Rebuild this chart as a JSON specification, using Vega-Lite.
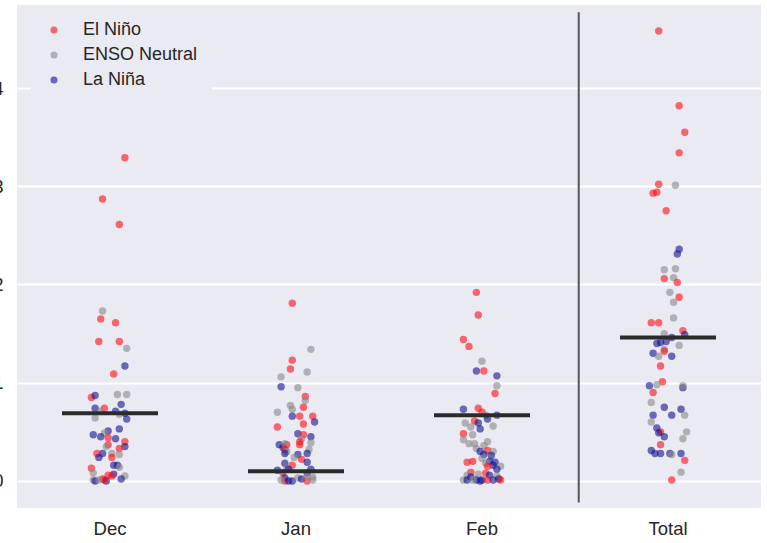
{
 "$schema": "https://vega.github.io/schema/vega-lite/v6.json",
 "width": 744, "height": 503,
 "autosize": {"type": "none"},
 "padding": {"left": 17, "top": 5, "right": 6, "bottom": 35},
 "background": "white",
 "config": {
  "view": {"fill": "#eaeaf2", "stroke": null},
  "font": "Liberation Sans",
  "axis": {"labelFont": "Liberation Sans", "labelFontSize": 18.5, "labelColor": "#262626", "domain": false, "ticks": false, "title": null}
 },
 "datasets": {
  "points": [
   {"month":"Dec","phase":"El Niño","value":3.29,"jitter":0.08},
   {"month":"Dec","phase":"El Niño","value":2.87,"jitter":-0.04},
   {"month":"Dec","phase":"El Niño","value":2.61,"jitter":0.05},
   {"month":"Dec","phase":"ENSO Neutral","value":1.73,"jitter":-0.04},
   {"month":"Dec","phase":"El Niño","value":1.65,"jitter":-0.05},
   {"month":"Dec","phase":"El Niño","value":1.61,"jitter":0.03},
   {"month":"Dec","phase":"El Niño","value":1.42,"jitter":-0.06},
   {"month":"Dec","phase":"El Niño","value":1.42,"jitter":0.05},
   {"month":"Dec","phase":"ENSO Neutral","value":1.35,"jitter":0.09},
   {"month":"Dec","phase":"La Niña","value":1.17,"jitter":0.08},
   {"month":"Dec","phase":"El Niño","value":1.09,"jitter":0.02},
   {"month":"Dec","phase":"El Niño","value":0.85,"jitter":-0.10},
   {"month":"Dec","phase":"La Niña","value":0.87,"jitter":-0.08},
   {"month":"Dec","phase":"ENSO Neutral","value":0.88,"jitter":0.04},
   {"month":"Dec","phase":"ENSO Neutral","value":0.88,"jitter":0.09},
   {"month":"Dec","phase":"La Niña","value":0.78,"jitter":0.06},
   {"month":"Dec","phase":"La Niña","value":0.74,"jitter":-0.08},
   {"month":"Dec","phase":"El Niño","value":0.74,"jitter":-0.03},
   {"month":"Dec","phase":"ENSO Neutral","value":0.71,"jitter":-0.05},
   {"month":"Dec","phase":"La Niña","value":0.71,"jitter":0.03},
   {"month":"Dec","phase":"La Niña","value":0.69,"jitter":0.08},
   {"month":"Dec","phase":"ENSO Neutral","value":0.64,"jitter":-0.08},
   {"month":"Dec","phase":"La Niña","value":0.63,"jitter":0.09},
   {"month":"Dec","phase":"ENSO Neutral","value":0.68,"jitter":0.05},
   {"month":"Dec","phase":"La Niña","value":0.53,"jitter":0.05},
   {"month":"Dec","phase":"La Niña","value":0.51,"jitter":-0.01},
   {"month":"Dec","phase":"ENSO Neutral","value":0.49,"jitter":-0.03},
   {"month":"Dec","phase":"La Niña","value":0.47,"jitter":-0.09},
   {"month":"Dec","phase":"La Niña","value":0.45,"jitter":-0.05},
   {"month":"Dec","phase":"El Niño","value":0.44,"jitter":-0.01},
   {"month":"Dec","phase":"La Niña","value":0.43,"jitter":0.03},
   {"month":"Dec","phase":"El Niño","value":0.40,"jitter":0.08},
   {"month":"Dec","phase":"La Niña","value":0.35,"jitter":0.08},
   {"month":"Dec","phase":"El Niño","value":0.37,"jitter":-0.01},
   {"month":"Dec","phase":"ENSO Neutral","value":0.35,"jitter":-0.02},
   {"month":"Dec","phase":"El Niño","value":0.33,"jitter":0.05},
   {"month":"Dec","phase":"La Niña","value":0.28,"jitter":-0.04},
   {"month":"Dec","phase":"El Niño","value":0.28,"jitter":-0.07},
   {"month":"Dec","phase":"La Niña","value":0.24,"jitter":-0.06},
   {"month":"Dec","phase":"ENSO Neutral","value":0.28,"jitter":0.01},
   {"month":"Dec","phase":"El Niño","value":0.24,"jitter":0.01},
   {"month":"Dec","phase":"ENSO Neutral","value":0.27,"jitter":0.05},
   {"month":"Dec","phase":"La Niña","value":0.16,"jitter":0.02},
   {"month":"Dec","phase":"La Niña","value":0.16,"jitter":0.04},
   {"month":"Dec","phase":"ENSO Neutral","value":0.14,"jitter":0.05},
   {"month":"Dec","phase":"El Niño","value":0.13,"jitter":-0.10},
   {"month":"Dec","phase":"ENSO Neutral","value":0.08,"jitter":-0.09},
   {"month":"Dec","phase":"La Niña","value":0.07,"jitter":0.02},
   {"month":"Dec","phase":"ENSO Neutral","value":0.05,"jitter":0.08},
   {"month":"Dec","phase":"El Niño","value":0.06,"jitter":-0.01},
   {"month":"Dec","phase":"La Niña","value":0.02,"jitter":0.06},
   {"month":"Dec","phase":"ENSO Neutral","value":0.01,"jitter":-0.09},
   {"month":"Dec","phase":"La Niña","value":0.00,"jitter":-0.08},
   {"month":"Dec","phase":"El Niño","value":0.02,"jitter":-0.04},
   {"month":"Dec","phase":"La Niña","value":0.00,"jitter":-0.02},
   {"month":"Dec","phase":"El Niño","value":0.01,"jitter":-0.03},
   {"month":"Dec","phase":"ENSO Neutral","value":0.01,"jitter":-0.06},
   {"month":"Dec","phase":"El Niño","value":0.05,"jitter":0.01},

   {"month":"Jan","phase":"El Niño","value":1.81,"jitter":-0.02},
   {"month":"Jan","phase":"ENSO Neutral","value":1.34,"jitter":0.08},
   {"month":"Jan","phase":"El Niño","value":1.23,"jitter":-0.02},
   {"month":"Jan","phase":"El Niño","value":1.14,"jitter":-0.03},
   {"month":"Jan","phase":"ENSO Neutral","value":1.11,"jitter":0.06},
   {"month":"Jan","phase":"ENSO Neutral","value":1.06,"jitter":-0.08},
   {"month":"Jan","phase":"La Niña","value":0.96,"jitter":-0.08},
   {"month":"Jan","phase":"ENSO Neutral","value":0.95,"jitter":0.01},
   {"month":"Jan","phase":"El Niño","value":0.86,"jitter":0.05},
   {"month":"Jan","phase":"ENSO Neutral","value":0.82,"jitter":0.05},
   {"month":"Jan","phase":"ENSO Neutral","value":0.77,"jitter":-0.03},
   {"month":"Jan","phase":"El Niño","value":0.75,"jitter":0.04},
   {"month":"Jan","phase":"ENSO Neutral","value":0.73,"jitter":-0.02},
   {"month":"Jan","phase":"ENSO Neutral","value":0.70,"jitter":-0.10},
   {"month":"Jan","phase":"El Niño","value":0.66,"jitter":0.02},
   {"month":"Jan","phase":"La Niña","value":0.66,"jitter":-0.02},
   {"month":"Jan","phase":"El Niño","value":0.66,"jitter":0.09},
   {"month":"Jan","phase":"La Niña","value":0.60,"jitter":0.10},
   {"month":"Jan","phase":"El Niño","value":0.58,"jitter":0.04},
   {"month":"Jan","phase":"El Niño","value":0.55,"jitter":-0.10},
   {"month":"Jan","phase":"La Niña","value":0.48,"jitter":0.01},
   {"month":"Jan","phase":"El Niño","value":0.47,"jitter":0.04},
   {"month":"Jan","phase":"La Niña","value":0.45,"jitter":0.08},
   {"month":"Jan","phase":"ENSO Neutral","value":0.43,"jitter":0.03},
   {"month":"Jan","phase":"El Niño","value":0.40,"jitter":0.02},
   {"month":"Jan","phase":"ENSO Neutral","value":0.39,"jitter":0.08},
   {"month":"Jan","phase":"El Niño","value":0.37,"jitter":0.02},
   {"month":"Jan","phase":"La Niña","value":0.37,"jitter":-0.09},
   {"month":"Jan","phase":"La Niña","value":0.34,"jitter":-0.07},
   {"month":"Jan","phase":"El Niño","value":0.37,"jitter":-0.05},
   {"month":"Jan","phase":"ENSO Neutral","value":0.38,"jitter":-0.06},
   {"month":"Jan","phase":"ENSO Neutral","value":0.32,"jitter":0.07},
   {"month":"Jan","phase":"El Niño","value":0.32,"jitter":-0.06},
   {"month":"Jan","phase":"ENSO Neutral","value":0.30,"jitter":-0.05},
   {"month":"Jan","phase":"La Niña","value":0.28,"jitter":-0.06},
   {"month":"Jan","phase":"La Niña","value":0.27,"jitter":0.01},
   {"month":"Jan","phase":"La Niña","value":0.28,"jitter":0.06},
   {"month":"Jan","phase":"ENSO Neutral","value":0.24,"jitter":-0.01},
   {"month":"Jan","phase":"El Niño","value":0.22,"jitter":0.03},
   {"month":"Jan","phase":"La Niña","value":0.19,"jitter":0.06},
   {"month":"Jan","phase":"La Niña","value":0.18,"jitter":-0.06},
   {"month":"Jan","phase":"El Niño","value":0.16,"jitter":-0.02},
   {"month":"Jan","phase":"ENSO Neutral","value":0.13,"jitter":-0.05},
   {"month":"Jan","phase":"La Niña","value":0.12,"jitter":-0.04},
   {"month":"Jan","phase":"La Niña","value":0.11,"jitter":-0.10},
   {"month":"Jan","phase":"La Niña","value":0.12,"jitter":0.08},
   {"month":"Jan","phase":"La Niña","value":0.08,"jitter":0.06},
   {"month":"Jan","phase":"El Niño","value":0.08,"jitter":-0.07},
   {"month":"Jan","phase":"ENSO Neutral","value":0.04,"jitter":0.09},
   {"month":"Jan","phase":"La Niña","value":0.03,"jitter":-0.06},
   {"month":"Jan","phase":"El Niño","value":0.00,"jitter":-0.06},
   {"month":"Jan","phase":"La Niña","value":0.00,"jitter":-0.04},
   {"month":"Jan","phase":"La Niña","value":0.00,"jitter":-0.02},
   {"month":"Jan","phase":"ENSO Neutral","value":0.03,"jitter":0.01},
   {"month":"Jan","phase":"La Niña","value":0.02,"jitter":0.03},
   {"month":"Jan","phase":"El Niño","value":0.00,"jitter":0.06},
   {"month":"Jan","phase":"ENSO Neutral","value":0.01,"jitter":0.09},
   {"month":"Jan","phase":"ENSO Neutral","value":0.01,"jitter":-0.08},
   {"month":"Jan","phase":"ENSO Neutral","value":0.04,"jitter":0.06},

   {"month":"Feb","phase":"El Niño","value":1.92,"jitter":-0.03},
   {"month":"Feb","phase":"El Niño","value":1.69,"jitter":-0.02},
   {"month":"Feb","phase":"El Niño","value":1.44,"jitter":-0.10},
   {"month":"Feb","phase":"El Niño","value":1.37,"jitter":-0.07},
   {"month":"Feb","phase":"ENSO Neutral","value":1.22,"jitter":0.00},
   {"month":"Feb","phase":"La Niña","value":1.12,"jitter":-0.03},
   {"month":"Feb","phase":"El Niño","value":1.12,"jitter":0.01},
   {"month":"Feb","phase":"La Niña","value":1.07,"jitter":0.08},
   {"month":"Feb","phase":"ENSO Neutral","value":0.97,"jitter":0.08},
   {"month":"Feb","phase":"El Niño","value":0.89,"jitter":0.07},
   {"month":"Feb","phase":"La Niña","value":0.73,"jitter":-0.10},
   {"month":"Feb","phase":"El Niño","value":0.74,"jitter":-0.02},
   {"month":"Feb","phase":"El Niño","value":0.70,"jitter":0.00},
   {"month":"Feb","phase":"ENSO Neutral","value":0.67,"jitter":0.02},
   {"month":"Feb","phase":"La Niña","value":0.67,"jitter":0.08},
   {"month":"Feb","phase":"La Niña","value":0.63,"jitter":0.03},
   {"month":"Feb","phase":"El Niño","value":0.61,"jitter":-0.04},
   {"month":"Feb","phase":"ENSO Neutral","value":0.59,"jitter":-0.09},
   {"month":"Feb","phase":"La Niña","value":0.59,"jitter":-0.02},
   {"month":"Feb","phase":"ENSO Neutral","value":0.56,"jitter":0.06},
   {"month":"Feb","phase":"ENSO Neutral","value":0.55,"jitter":-0.06},
   {"month":"Feb","phase":"La Niña","value":0.53,"jitter":-0.01},
   {"month":"Feb","phase":"El Niño","value":0.48,"jitter":-0.10},
   {"month":"Feb","phase":"ENSO Neutral","value":0.47,"jitter":-0.05},
   {"month":"Feb","phase":"ENSO Neutral","value":0.42,"jitter":-0.10},
   {"month":"Feb","phase":"ENSO Neutral","value":0.40,"jitter":0.03},
   {"month":"Feb","phase":"ENSO Neutral","value":0.38,"jitter":-0.07},
   {"month":"Feb","phase":"ENSO Neutral","value":0.38,"jitter":-0.04},
   {"month":"Feb","phase":"ENSO Neutral","value":0.36,"jitter":0.01},
   {"month":"Feb","phase":"ENSO Neutral","value":0.33,"jitter":-0.03},
   {"month":"Feb","phase":"El Niño","value":0.31,"jitter":0.03},
   {"month":"Feb","phase":"ENSO Neutral","value":0.30,"jitter":0.06},
   {"month":"Feb","phase":"La Niña","value":0.30,"jitter":-0.01},
   {"month":"Feb","phase":"La Niña","value":0.27,"jitter":0.01},
   {"month":"Feb","phase":"La Niña","value":0.26,"jitter":0.05},
   {"month":"Feb","phase":"ENSO Neutral","value":0.23,"jitter":0.00},
   {"month":"Feb","phase":"El Niño","value":0.19,"jitter":-0.08},
   {"month":"Feb","phase":"El Niño","value":0.20,"jitter":-0.05},
   {"month":"Feb","phase":"La Niña","value":0.20,"jitter":0.04},
   {"month":"Feb","phase":"La Niña","value":0.19,"jitter":0.07},
   {"month":"Feb","phase":"ENSO Neutral","value":0.18,"jitter":0.02},
   {"month":"Feb","phase":"La Niña","value":0.16,"jitter":0.06},
   {"month":"Feb","phase":"ENSO Neutral","value":0.15,"jitter":0.10},
   {"month":"Feb","phase":"El Niño","value":0.15,"jitter":0.03},
   {"month":"Feb","phase":"La Niña","value":0.12,"jitter":0.08},
   {"month":"Feb","phase":"El Niño","value":0.09,"jitter":-0.06},
   {"month":"Feb","phase":"ENSO Neutral","value":0.06,"jitter":-0.08},
   {"month":"Feb","phase":"ENSO Neutral","value":0.07,"jitter":-0.02},
   {"month":"Feb","phase":"El Niño","value":0.08,"jitter":0.02},
   {"month":"Feb","phase":"La Niña","value":0.06,"jitter":0.04},
   {"month":"Feb","phase":"ENSO Neutral","value":0.05,"jitter":0.08},
   {"month":"Feb","phase":"La Niña","value":0.04,"jitter":-0.06},
   {"month":"Feb","phase":"ENSO Neutral","value":0.01,"jitter":-0.10},
   {"month":"Feb","phase":"La Niña","value":0.01,"jitter":-0.08},
   {"month":"Feb","phase":"La Niña","value":0.01,"jitter":-0.03},
   {"month":"Feb","phase":"La Niña","value":0.01,"jitter":0.00},
   {"month":"Feb","phase":"El Niño","value":0.01,"jitter":0.03},
   {"month":"Feb","phase":"La Niña","value":0.01,"jitter":0.06},
   {"month":"Feb","phase":"La Niña","value":0.02,"jitter":0.09},
   {"month":"Feb","phase":"El Niño","value":0.01,"jitter":0.10},
   {"month":"Feb","phase":"ENSO Neutral","value":0.01,"jitter":-0.05},
   {"month":"Feb","phase":"La Niña","value":0.00,"jitter":-0.01},

   {"month":"Total","phase":"El Niño","value":4.58,"jitter":-0.05},
   {"month":"Total","phase":"El Niño","value":3.82,"jitter":0.06},
   {"month":"Total","phase":"El Niño","value":3.55,"jitter":0.09},
   {"month":"Total","phase":"El Niño","value":3.34,"jitter":0.06},
   {"month":"Total","phase":"ENSO Neutral","value":3.01,"jitter":0.04},
   {"month":"Total","phase":"El Niño","value":3.02,"jitter":-0.05},
   {"month":"Total","phase":"El Niño","value":2.93,"jitter":-0.08},
   {"month":"Total","phase":"El Niño","value":2.94,"jitter":-0.06},
   {"month":"Total","phase":"El Niño","value":2.75,"jitter":-0.01},
   {"month":"Total","phase":"La Niña","value":2.36,"jitter":0.06},
   {"month":"Total","phase":"La Niña","value":2.31,"jitter":0.05},
   {"month":"Total","phase":"ENSO Neutral","value":2.15,"jitter":-0.02},
   {"month":"Total","phase":"ENSO Neutral","value":2.16,"jitter":0.04},
   {"month":"Total","phase":"El Niño","value":2.06,"jitter":-0.02},
   {"month":"Total","phase":"ENSO Neutral","value":2.07,"jitter":0.03},
   {"month":"Total","phase":"El Niño","value":2.02,"jitter":0.05},
   {"month":"Total","phase":"ENSO Neutral","value":1.92,"jitter":0.01},
   {"month":"Total","phase":"El Niño","value":1.87,"jitter":0.06},
   {"month":"Total","phase":"ENSO Neutral","value":1.82,"jitter":0.03},
   {"month":"Total","phase":"ENSO Neutral","value":1.66,"jitter":0.03},
   {"month":"Total","phase":"El Niño","value":1.61,"jitter":-0.09},
   {"month":"Total","phase":"El Niño","value":1.61,"jitter":-0.05},
   {"month":"Total","phase":"El Niño","value":1.53,"jitter":0.08},
   {"month":"Total","phase":"ENSO Neutral","value":1.50,"jitter":-0.02},
   {"month":"Total","phase":"La Niña","value":1.49,"jitter":0.09},
   {"month":"Total","phase":"La Niña","value":1.46,"jitter":0.02},
   {"month":"Total","phase":"La Niña","value":1.42,"jitter":-0.01},
   {"month":"Total","phase":"La Niña","value":1.41,"jitter":-0.04},
   {"month":"Total","phase":"La Niña","value":1.40,"jitter":-0.06},
   {"month":"Total","phase":"ENSO Neutral","value":1.38,"jitter":0.06},
   {"month":"Total","phase":"ENSO Neutral","value":1.34,"jitter":-0.02},
   {"month":"Total","phase":"El Niño","value":1.32,"jitter":-0.02},
   {"month":"Total","phase":"La Niña","value":1.30,"jitter":-0.08},
   {"month":"Total","phase":"La Niña","value":1.27,"jitter":0.02},
   {"month":"Total","phase":"ENSO Neutral","value":1.27,"jitter":-0.05},
   {"month":"Total","phase":"El Niño","value":1.17,"jitter":-0.04},
   {"month":"Total","phase":"El Niño","value":1.01,"jitter":-0.03},
   {"month":"Total","phase":"La Niña","value":0.97,"jitter":-0.10},
   {"month":"Total","phase":"ENSO Neutral","value":0.98,"jitter":-0.06},
   {"month":"Total","phase":"La Niña","value":0.95,"jitter":0.08},
   {"month":"Total","phase":"ENSO Neutral","value":0.97,"jitter":0.08},
   {"month":"Total","phase":"El Niño","value":0.90,"jitter":-0.08},
   {"month":"Total","phase":"ENSO Neutral","value":0.80,"jitter":-0.09},
   {"month":"Total","phase":"La Niña","value":0.75,"jitter":-0.02},
   {"month":"Total","phase":"La Niña","value":0.73,"jitter":0.07},
   {"month":"Total","phase":"La Niña","value":0.67,"jitter":0.02},
   {"month":"Total","phase":"ENSO Neutral","value":0.67,"jitter":0.09},
   {"month":"Total","phase":"La Niña","value":0.67,"jitter":-0.08},
   {"month":"Total","phase":"ENSO Neutral","value":0.60,"jitter":-0.09},
   {"month":"Total","phase":"La Niña","value":0.54,"jitter":-0.06},
   {"month":"Total","phase":"El Niño","value":0.50,"jitter":-0.04},
   {"month":"Total","phase":"La Niña","value":0.49,"jitter":-0.05},
   {"month":"Total","phase":"ENSO Neutral","value":0.50,"jitter":0.10},
   {"month":"Total","phase":"La Niña","value":0.45,"jitter":-0.02},
   {"month":"Total","phase":"ENSO Neutral","value":0.43,"jitter":0.08},
   {"month":"Total","phase":"El Niño","value":0.37,"jitter":-0.04},
   {"month":"Total","phase":"La Niña","value":0.31,"jitter":-0.09},
   {"month":"Total","phase":"La Niña","value":0.28,"jitter":-0.07},
   {"month":"Total","phase":"La Niña","value":0.28,"jitter":-0.04},
   {"month":"Total","phase":"La Niña","value":0.28,"jitter":0.01},
   {"month":"Total","phase":"ENSO Neutral","value":0.27,"jitter":0.02},
   {"month":"Total","phase":"La Niña","value":0.28,"jitter":0.07},
   {"month":"Total","phase":"El Niño","value":0.21,"jitter":0.09},
   {"month":"Total","phase":"ENSO Neutral","value":0.09,"jitter":0.07},
   {"month":"Total","phase":"El Niño","value":0.01,"jitter":0.02}
  ],
  "medians": [
   {"month":"Dec","median":0.69},
   {"month":"Jan","median":0.10},
   {"month":"Feb","median":0.67},
   {"month":"Total","median":1.46}
  ],
  "divider": [
   {"month":"Feb","lo":-0.22,"hi":4.77}
  ]
 },
 "layer": [
  {
   "data": {"name": "divider"},
   "mark": {"type": "rule", "color": "#555555", "strokeWidth": 2},
   "encoding": {
    "x": {"field": "month", "type": "nominal", "sort": ["Dec","Jan","Feb","Total"]},
    "xOffset": {"datum": 0.52, "type": "quantitative"},
    "y": {"field": "lo", "type": "quantitative"},
    "y2": {"field": "hi"}
   }
  },
  {
   "data": {"name": "points"},
   "mark": {"type": "circle", "size": 55, "opacity": 0.6},
   "encoding": {
    "x": {"field": "month", "type": "nominal", "sort": ["Dec","Jan","Feb","Total"],
          "scale": {"paddingInner": 0, "paddingOuter": 0},
          "axis": {"labelAngle": 0, "labelAlign": "center", "labelPadding": 20, "grid": false}},
    "xOffset": {"field": "jitter", "type": "quantitative", "scale": {"domain": [-0.5, 0.5]}},
    "y": {"field": "value", "type": "quantitative",
          "scale": {"domain": [-0.275, 4.845], "nice": false, "zero": false},
          "axis": {"values": [0,1,2,3,4], "format": "d", "grid": true, "gridColor": "white", "gridWidth": 1.8, "labelPadding": 14}},
    "color": {"field": "phase", "type": "nominal",
              "scale": {"domain": ["El Niño","ENSO Neutral","La Niña"], "range": ["#ff0a14","#888888","#101090"]},
              "legend": {"title": null, "orient": "none", "legendX": 14, "legendY": 2, "labelFontSize": 18, "labelFont": "Liberation Sans", "labelColor": "#262626", "symbolType": "circle", "symbolSize": 50, "symbolOpacity": 0.6, "labelOffset": 20, "rowPadding": 7, "padding": 14, "fillColor": "#eaeaf2", "strokeColor": null}}
   }
  },
  {
   "data": {"name": "medians"},
   "mark": {"type": "tick", "orient": "horizontal", "size": 96, "thickness": 4, "color": "#2b2b2b", "opacity": 1},
   "encoding": {
    "x": {"field": "month", "type": "nominal", "sort": ["Dec","Jan","Feb","Total"]},
    "y": {"field": "median", "type": "quantitative"}
   }
  }
 ]
}
